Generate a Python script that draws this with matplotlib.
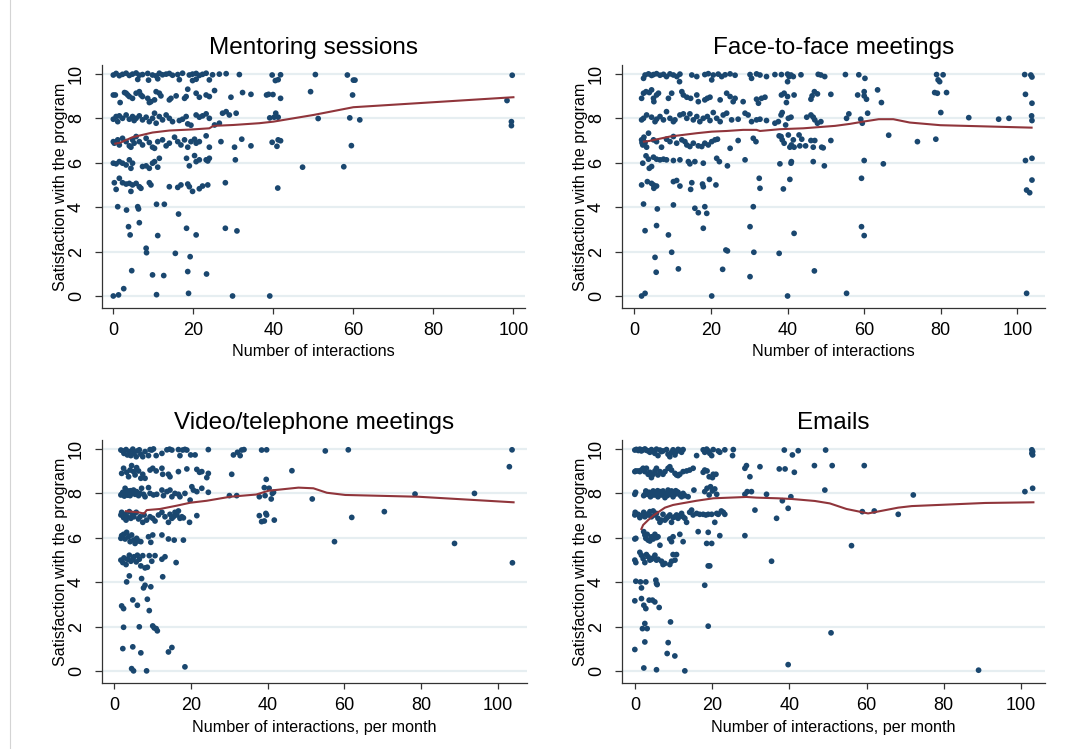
import numpy as np
import matplotlib
matplotlib.use("Agg")
import matplotlib.pyplot as plt
from matplotlib.lines import Line2D

plt.rcParams['font.family'] = ['Liberation Sans', 'DejaVu Sans']

titles = ["Mentoring sessions", "Face-to-face meetings",
          "Video/telephone meetings", "Emails"]
xlabels = ["Number of interactions", "Number of interactions",
           "Number of interactions, per month", "Number of interactions, per month"]
ylabel = "Satisfaction with the program"
xticks = [0, 20, 40, 60, 80, 100]
yticks = [0, 2, 4, 6, 8, 10]

# (interactions, satisfaction) (jitter included)
mentor_pts = [
    (0.0, 9.95), (0.7, 10.02), (1.5, 9.92), (2.3, 9.98), (3.2, 10.03), (4.0, 9.93), (4.8, 9.99), (5.7, 10.04),
    (6.5, 9.94), (7.3, 9.97), (8.6, 10.02), (9.8, 9.95), (10.7, 9.91), (11.5, 10.03), (12.3, 9.96), (13.2, 9.99),
    (14.0, 10.02), (14.8, 9.94), (16.1, 9.97), (17.3, 10.03), (19.0, 9.95), (19.8, 9.99), (20.7, 10.02),
    (21.5, 9.93), (22.3, 9.98), (23.2, 10.03), (24.8, 9.96), (26.5, 9.99), (28.2, 10.01), (31.5, 9.97),
    (6.1, 9.75), (8.8, 9.72), (11.1, 9.78), (16.5, 9.74), (19.8, 9.7), (20.7, 9.76), (24.0, 9.73),
    (39.7, 9.95), (41.8, 9.96), (50.5, 9.97), (58.5, 9.95), (99.7, 9.94), (40.5, 9.7), (41.2, 9.74),
    (60.0, 9.72), (60.4, 9.72),
    (0.0, 9.05), (0.5, 9.05), (1.7, 8.71), (2.8, 9.16), (3.2, 9.13), (3.6, 9.05), (4.0, 8.98), (4.8, 8.9),
    (5.7, 9.13), (6.5, 9.2), (6.9, 9.05), (7.3, 8.98), (8.6, 8.9), (9.0, 8.71), (9.4, 8.75), (10.3, 8.83),
    (10.7, 9.2), (11.5, 9.13), (11.9, 9.01), (14.0, 8.83), (14.4, 8.9), (15.7, 9.01), (17.8, 8.9), (18.2, 8.98),
    (18.6, 9.31), (20.7, 9.13), (21.5, 8.95), (23.2, 9.05), (24.0, 8.98), (25.3, 9.25), (29.4, 8.95),
    (32.3, 9.16), (34.4, 9.08),
    (38.3, 9.05), (38.8, 9.08), (39.9, 9.07), (41.8, 8.9), (49.3, 9.2), (59.8, 9.05), (98.4, 8.8),
    (0.0, 7.96), (0.7, 8.08), (1.1, 7.85), (1.5, 8.11), (2.3, 8.0), (3.2, 8.15), (4.0, 7.96), (4.8, 8.08),
    (5.2, 7.9), (5.7, 8.0), (6.5, 8.11), (7.3, 7.93), (8.2, 8.05), (9.0, 7.85), (9.8, 8.0), (10.3, 8.23),
    (10.7, 7.78), (11.5, 8.08), (12.3, 7.93), (13.2, 8.15), (14.0, 8.0), (14.8, 7.85), (16.5, 7.9), (17.3, 7.96),
    (18.2, 8.08), (18.6, 7.75), (19.4, 7.69), (20.7, 8.15), (21.5, 8.05), (22.3, 8.11), (23.2, 8.2), (24.0, 8.0),
    (25.3, 7.7), (26.5, 7.78), (27.3, 8.23), (28.2, 8.3), (29.0, 8.15), (30.7, 8.23),
    (39.1, 8.02), (40.2, 8.05), (40.6, 8.23), (41.2, 8.05), (51.2, 7.99), (59.1, 8.02), (61.6, 7.93),
    (99.5, 7.85), (99.5, 7.67),
    (0.0, 6.95), (0.25, 6.88), (1.1, 7.03), (1.5, 6.8), (2.3, 7.1), (3.2, 6.95), (4.0, 6.76), (4.4, 6.7),
    (4.8, 7.03), (5.2, 6.88), (5.7, 7.18), (6.5, 6.95), (7.3, 6.8), (8.2, 7.1), (9.0, 6.91), (9.8, 6.7),
    (10.3, 6.65), (11.1, 6.95), (12.3, 7.03), (13.2, 6.76), (14.0, 6.88), (15.3, 7.15), (16.1, 6.95), (16.9, 6.8),
    (17.8, 7.03), (18.6, 6.7), (19.4, 6.95), (20.3, 7.06), (20.7, 6.88), (21.5, 6.95), (23.2, 7.21), (24.0, 6.7),
    (26.9, 6.95), (30.3, 6.7), (32.1, 7.06), (34.4, 6.76),
    (39.7, 6.92), (41.2, 7.03), (41.8, 6.99), (40.9, 6.74), (59.5, 6.77),
    (0.0, 5.98), (0.7, 5.95), (1.5, 6.05), (2.3, 5.98), (3.2, 5.9), (4.0, 6.13), (4.4, 5.75), (4.8, 5.98),
    (7.3, 5.83), (8.2, 5.86), (9.0, 5.75), (9.8, 5.98), (10.3, 6.05), (11.1, 5.8), (11.5, 6.2), (18.3, 6.2),
    (19.0, 5.86), (20.3, 6.32), (20.7, 6.05), (21.5, 6.13), (23.2, 6.13), (23.6, 6.08), (24.0, 6.2), (30.5, 6.13),
    (47.3, 5.8), (57.6, 5.82),
    (0.25, 5.1), (0.7, 4.8), (1.5, 5.3), (2.3, 5.1), (3.2, 5.04), (4.0, 5.07), (4.4, 4.71), (4.8, 5.0),
    (5.7, 5.07), (6.5, 4.92), (6.9, 4.85), (9.0, 5.1), (9.4, 5.0), (14.0, 4.92), (16.1, 4.89), (16.9, 5.0),
    (18.6, 5.04), (19.0, 4.92), (19.8, 4.71), (21.5, 4.83), (22.3, 4.95), (23.6, 5.0), (28.0, 5.1), (41.1, 4.86),
    (1.1, 4.02), (3.3, 3.87), (6.1, 4.02), (6.3, 3.92), (10.8, 4.13), (12.75, 4.13), (16.3, 3.69),
    (3.8, 3.12), (4.2, 2.75), (6.5, 3.3), (11.1, 2.72), (18.3, 3.05), (20.7, 2.75), (28.0, 3.05), (30.9, 2.93),
    (8.2, 2.15), (8.3, 1.95), (15.5, 1.92), (19.2, 1.77),
    (4.6, 1.14), (9.8, 0.95), (12.6, 0.92), (18.6, 1.1), (23.3, 0.99),
    (0.0, 0.0), (1.3, 0.05), (2.6, 0.33), (10.8, 0.06), (18.8, 0.12), (29.8, 0.0), (39.1, 0.0),
]

face_pts = [
    (2.4, 9.8), (2.8, 9.95), (3.7, 10.0), (4.5, 9.93), (5.0, 9.97), (5.8, 10.01), (6.7, 9.94), (7.6, 9.98),
    (8.4, 9.88), (9.3, 10.0), (10.2, 9.95), (11.1, 9.88), (11.8, 9.65), (11.9, 9.99), (15.0, 9.95), (16.3, 9.88),
    (18.4, 9.97), (19.3, 10.01), (20.2, 9.73), (20.6, 9.95), (21.9, 9.99), (22.8, 9.88), (23.7, 9.96),
    (25.0, 10.0), (26.3, 9.94), (30.2, 9.97), (30.6, 9.8), (31.9, 10.0), (32.8, 9.95), (34.5, 9.88), (36.7, 9.97),
    (38.4, 9.97), (40.0, 9.99), (40.4, 9.88), (40.9, 9.95), (41.5, 9.88), (43.5, 9.96), (48.0, 9.98),
    (48.7, 9.95), (49.7, 9.88), (55.1, 9.97), (58.6, 9.96), (60.2, 9.8), (78.9, 9.97), (80.6, 9.96),
    (79.7, 9.65), (79.3, 9.73), (101.9, 9.97), (103.5, 9.95), (103.8, 9.86), (40.0, 9.65),
    (1.9, 8.9), (2.4, 9.13), (3.05, 9.2), (3.9, 9.16), (4.5, 9.28), (5.0, 8.9), (5.1, 8.75), (5.8, 9.05),
    (6.3, 9.13), (8.9, 8.9), (9.75, 9.13), (12.4, 9.2), (12.8, 9.05), (13.7, 8.95), (14.7, 8.9), (16.3, 9.05),
    (16.7, 8.75), (18.4, 8.83), (19.05, 8.9), (19.75, 8.95), (22.4, 8.83), (24.1, 9.13), (25.0, 8.98),
    (26.3, 8.9), (25.8, 8.75), (28.4, 8.75), (31.9, 8.86), (32.4, 8.68), (33.2, 8.9), (34.1, 8.95),
    (38.4, 9.05), (39.1, 9.13), (40.0, 8.98), (39.7, 8.71), (41.7, 9.05), (46.1, 8.86), (46.4, 9.01),
    (47.0, 9.2), (47.8, 9.1), (51.3, 9.08), (58.3, 9.05), (60.0, 9.2), (60.0, 9.01), (60.6, 8.86),
    (63.5, 9.28), (64.5, 8.71), (78.4, 9.16), (79.1, 9.13), (81.5, 9.16), (102.1, 9.08), (103.8, 8.68),
    (1.9, 7.93), (2.4, 8.0), (3.2, 8.15), (4.5, 8.05), (5.4, 7.85), (5.8, 7.96), (6.7, 8.08), (7.6, 7.93),
    (8.4, 8.3), (9.3, 8.0), (10.2, 7.85), (10.6, 7.93), (11.9, 8.15), (12.8, 8.2), (13.7, 8.0), (14.5, 8.2),
    (15.4, 7.93), (16.3, 8.08), (17.1, 7.85), (18.0, 8.0), (19.05, 8.08), (19.75, 7.9), (20.6, 8.26),
    (21.5, 8.0), (22.4, 7.85), (23.2, 8.15), (24.1, 8.23), (25.4, 7.93), (27.1, 7.96), (28.9, 8.23),
    (29.7, 8.15), (30.6, 7.85), (31.9, 7.93), (32.8, 7.96), (34.5, 7.9), (36.7, 7.78),
    (37.6, 7.85), (38.3, 8.15), (38.6, 8.26), (39.5, 7.7), (40.2, 8.0), (40.9, 8.05), (45.0, 8.05),
    (46.1, 8.15), (46.7, 8.05), (47.1, 7.93), (47.8, 7.78), (48.7, 7.85), (55.4, 8.0), (56.0, 8.2),
    (59.1, 7.96), (59.5, 7.78), (60.9, 8.23), (80.0, 8.26), (87.3, 8.03), (95.1, 7.96), (97.8, 8.0),
    (103.7, 8.11), (103.8, 7.9),
    (1.9, 7.03), (2.2, 6.8), (2.5, 7.15), (2.8, 6.91), (3.2, 6.7), (3.7, 7.33), (5.0, 7.03), (5.8, 6.95),
    (7.1, 6.7), (8.4, 7.06), (9.3, 6.95), (10.2, 7.18), (11.05, 6.88), (12.4, 7.03), (13.2, 6.95), (13.7, 6.8),
    (14.5, 6.73), (15.4, 6.88), (16.7, 6.76), (17.6, 6.73), (18.4, 6.88), (19.3, 6.8), (20.2, 6.95),
    (21.05, 7.03), (21.7, 7.06), (25.0, 6.65), (27.1, 7.0), (31.05, 7.1), (31.75, 6.95), (37.8, 7.21),
    (2.0, 6.9), (2.3, 7.05), (2.6, 6.85),
    (38.3, 7.18), (38.6, 7.03), (39.1, 6.88), (40.2, 7.25), (40.6, 6.7), (41.0, 6.8), (41.5, 7.03),
    (41.7, 6.7), (43.0, 7.25), (43.7, 7.06), (43.2, 6.76), (44.7, 6.76), (46.1, 7.0), (46.7, 6.7),
    (47.1, 7.0), (48.9, 6.7), (49.3, 6.67), (51.3, 7.0), (66.4, 7.24), (73.9, 6.95), (78.7, 7.06),
    (2.2, 5.98), (3.05, 6.31), (3.7, 6.16), (3.9, 5.75), (4.5, 5.83), (5.0, 6.25), (5.8, 6.16), (6.7, 6.13),
    (7.6, 6.16), (8.4, 6.13), (10.2, 6.1), (11.9, 6.13), (14.1, 6.05), (14.5, 5.95), (15.8, 6.05), (18.0, 5.98),
    (21.5, 6.2), (22.2, 6.05), (24.3, 5.86), (28.9, 6.13), (38.0, 5.95),
    (40.9, 5.98), (41.0, 6.05), (46.7, 6.05), (49.6, 5.86), (60.0, 6.1), (65.0, 5.95), (102.1, 6.1),
    (103.8, 6.2), (59.3, 5.3), (40.6, 5.25), (103.8, 5.22), (38.9, 4.82), (102.4, 4.77), (103.2, 4.65),
    (1.9, 5.0), (3.4, 5.15), (4.5, 5.07), (5.0, 5.0), (5.1, 4.85), (5.8, 4.95), (10.2, 5.15), (11.05, 5.2),
    (11.9, 4.95), (14.7, 4.8), (15.0, 5.1), (17.8, 5.04), (18.0, 4.92), (19.6, 5.25), (21.3, 5.0),
    (32.6, 5.3), (32.8, 4.85),
    (2.4, 4.14), (6.0, 3.92), (10.2, 4.1), (15.8, 3.95), (16.7, 3.75), (18.4, 4.02), (18.9, 3.72), (31.05, 4.02),
    (2.8, 2.94), (5.8, 3.17), (8.9, 2.75), (18.0, 3.05), (30.2, 3.12), (41.7, 2.82), (59.3, 3.12), (60.0, 2.72),
    (5.4, 1.74), (9.75, 1.97), (23.9, 2.07), (24.3, 2.03), (31.2, 1.97), (37.8, 1.92),
    (5.7, 1.07), (11.5, 1.22), (23.05, 1.2), (30.2, 0.87), (47.0, 1.13),
    (1.9, 0.0), (2.8, 0.12), (20.2, 0.0), (40.0, 0.0), (55.4, 0.12), (102.4, 0.12),
]

video_pts = [
    (1.7, 9.95), (2.2, 9.91), (2.5, 9.8), (3.05, 9.97), (3.4, 9.73), (3.9, 9.88), (4.3, 9.7), (4.8, 9.99),
    (5.1, 9.8), (5.7, 9.65), (6.0, 9.91), (6.5, 9.96), (6.9, 9.76), (7.4, 9.65), (8.0, 9.88), (8.9, 9.7),
    (9.3, 9.97), (9.75, 9.95), (10.2, 10.0), (10.9, 9.7), (12.4, 9.8), (13.7, 9.96), (14.4, 9.99), (15.0, 9.95),
    (16.7, 9.97), (17.1, 9.7), (17.8, 9.95), (18.4, 9.98), (18.9, 9.95), (19.9, 9.73), (21.05, 9.73),
    (24.5, 9.97), (31.05, 9.73), (32.1, 9.85), (32.8, 9.7), (33.2, 9.95), (33.8, 9.97),
    (38.4, 9.95), (39.7, 9.96), (55.0, 9.91), (61.0, 9.96), (103.7, 9.96), (103.0, 9.2),
    (1.9, 8.9), (2.4, 9.13), (3.2, 8.95), (3.7, 8.75), (4.1, 9.05), (4.5, 9.25), (5.0, 8.98), (5.4, 8.83),
    (5.8, 9.16), (6.3, 9.01), (6.9, 8.68), (7.4, 8.86), (8.0, 8.68), (9.3, 9.05), (10.0, 9.13), (10.9, 9.01),
    (12.4, 9.13), (12.6, 8.86), (14.1, 8.86), (14.5, 8.75), (16.7, 8.98), (18.9, 9.1), (21.5, 9.08),
    (22.2, 8.95), (22.8, 8.98), (24.1, 8.71), (24.5, 8.9), (30.6, 8.86), (46.3, 9.02), (39.6, 8.63),
    (1.7, 7.93), (2.2, 8.05), (2.8, 8.23), (3.2, 7.96), (3.7, 8.11), (4.1, 7.9), (4.5, 8.0), (5.0, 8.15),
    (5.4, 7.96), (5.8, 8.08), (6.3, 7.9), (6.7, 8.0), (7.1, 8.23), (7.6, 7.96), (8.0, 7.85), (8.9, 8.26),
    (9.3, 8.0), (10.2, 7.93), (11.05, 7.96), (12.4, 8.15), (12.8, 7.9), (13.7, 8.08), (14.5, 8.15),
    (15.0, 7.85), (15.8, 8.0), (16.7, 7.96), (17.1, 7.85), (18.4, 8.0), (19.75, 7.7), (20.2, 8.3),
    (20.6, 8.15), (21.5, 8.08), (22.8, 8.23), (24.5, 8.05), (30.0, 7.9), (31.9, 7.9), (37.8, 7.85),
    (2.0, 7.98), (2.6, 7.88), (3.0, 8.1), (3.5, 7.92), (4.3, 8.12),
    (39.1, 8.26), (39.3, 7.9), (40.35, 8.23), (40.9, 7.75), (41.2, 8.0), (41.5, 8.05), (51.6, 7.75),
    (78.4, 7.97), (93.9, 8.0),
    (1.7, 7.03), (1.9, 7.15), (2.4, 6.91), (2.8, 7.06), (3.05, 6.8), (3.4, 6.95), (3.9, 7.18), (4.3, 6.88),
    (4.8, 7.03), (5.1, 6.95), (5.7, 7.15), (6.3, 6.85), (6.7, 6.95), (7.4, 6.7), (7.75, 7.03), (8.4, 6.8),
    (9.3, 6.95), (10.0, 6.88), (10.6, 6.76), (11.5, 7.03), (12.4, 7.15), (13.2, 6.95), (14.1, 6.7),
    (14.5, 7.06), (15.0, 6.88), (15.4, 6.95), (15.8, 7.15), (16.3, 7.03), (16.7, 7.21), (17.1, 6.88),
    (17.6, 6.95), (18.0, 6.9), (19.6, 6.7), (21.5, 7.0), (37.8, 7.0),
    (38.4, 6.73), (39.1, 6.76), (39.5, 7.1), (39.7, 7.03), (41.7, 6.8), (61.9, 6.92), (70.4, 7.18),
    (1.7, 5.98), (1.9, 6.1), (2.4, 6.16), (2.8, 5.95), (3.2, 6.25), (3.7, 6.05), (4.1, 5.83), (4.5, 6.13),
    (5.0, 5.9), (5.4, 5.75), (5.8, 5.98), (6.3, 5.86), (6.9, 5.83), (8.9, 6.05), (9.5, 5.8), (10.0, 6.13),
    (12.4, 6.13), (14.1, 5.95), (15.6, 5.9), (18.0, 5.9), (57.4, 5.83), (88.7, 5.75),
    (1.7, 5.0), (2.2, 4.89), (2.5, 5.1), (3.05, 4.8), (3.4, 5.04), (3.9, 5.22), (4.3, 4.95), (4.8, 5.04),
    (5.1, 5.15), (5.7, 4.92), (6.0, 5.22), (6.5, 5.04), (6.9, 4.74), (7.4, 5.2), (8.0, 4.65), (8.6, 4.68),
    (9.1, 5.2), (9.75, 4.95), (10.6, 5.2), (12.4, 5.04), (13.2, 5.15), (16.1, 4.89), (103.8, 4.88),
    (3.2, 4.02), (3.9, 4.29), (7.1, 4.17), (7.6, 3.75), (8.0, 3.87), (9.5, 3.8), (12.6, 4.25),
    (1.9, 2.94), (2.4, 2.82), (4.8, 3.21), (6.0, 2.97), (8.6, 3.24), (9.1, 2.73),
    (2.4, 1.98), (6.5, 2.0), (10.0, 2.04), (10.4, 1.95), (10.9, 1.92), (11.2, 1.82),
    (2.2, 1.02), (4.8, 1.1), (6.9, 0.83), (14.1, 0.87), (15.0, 1.07),
    (4.5, 0.12), (5.0, 0.02), (8.4, 0.02), (18.4, 0.2),
]

email_pts = [
    (0.0, 9.95), (0.4, 9.98), (0.9, 9.93), (1.3, 9.99), (1.7, 9.91), (2.15, 9.96), (2.6, 10.0), (3.0, 9.94),
    (3.45, 9.91), (3.9, 9.85), (4.3, 9.97), (4.75, 9.88), (5.2, 9.8), (5.6, 9.99), (6.0, 9.7), (6.5, 9.95),
    (6.9, 9.88), (7.3, 9.91), (8.2, 9.97), (8.6, 9.76), (9.06, 9.65), (9.5, 9.85), (9.9, 9.96), (10.4, 9.73),
    (10.8, 9.88), (11.2, 9.98), (11.65, 9.94), (12.1, 9.85), (12.5, 9.97), (16.0, 9.7), (17.7, 9.96),
    (18.1, 9.85), (18.6, 9.99), (19.0, 9.91), (19.4, 9.8), (19.9, 9.7), (20.3, 9.97), (21.6, 9.91),
    (22.0, 9.85), (23.3, 9.96), (25.5, 9.97), (25.3, 9.7),
    (38.7, 9.95), (40.8, 9.73), (42.3, 9.92), (49.4, 9.95), (102.8, 9.96), (103.0, 9.88), (102.8, 9.8),
    (103.0, 9.73),
    (0.0, 8.98), (0.26, 9.01), (0.86, 9.01), (1.3, 8.98), (1.7, 9.05), (2.15, 9.13), (2.6, 8.98), (3.0, 9.13),
    (3.45, 8.86), (3.9, 8.95), (4.3, 8.71), (4.75, 8.86), (5.2, 9.01), (5.6, 9.13), (6.0, 8.83), (6.5, 8.98),
    (7.3, 8.86), (7.8, 8.98), (8.6, 9.13), (9.06, 9.2), (9.5, 9.05), (10.4, 8.9), (10.8, 8.83), (11.2, 8.8),
    (11.65, 8.86), (12.5, 8.98), (13.4, 9.01), (14.2, 9.05), (15.1, 9.13), (17.7, 8.95), (18.1, 9.05),
    (18.7, 9.01), (19.25, 8.75), (20.1, 8.71), (20.3, 8.86), (21.0, 8.86), (28.5, 9.13), (28.9, 9.25),
    (29.8, 8.75), (32.4, 9.2), (37.4, 9.1),
    (38.9, 9.1), (41.3, 8.95), (46.5, 9.25), (51.1, 9.25), (59.4, 9.25),
    (0.0, 7.96), (0.2, 8.05), (2.3, 7.9), (2.85, 8.11), (3.2, 7.96), (3.7, 8.05), (4.05, 7.85), (4.3, 8.0),
    (4.75, 8.11), (5.2, 7.93), (5.6, 8.05), (6.0, 7.85), (6.5, 8.08), (6.9, 7.93), (7.3, 8.11), (7.8, 7.81),
    (8.2, 8.0), (8.6, 8.15), (9.06, 7.96), (9.5, 8.11), (9.9, 7.85), (10.4, 7.96), (10.8, 8.08), (11.2, 8.05),
    (11.65, 7.93), (12.1, 7.85), (12.5, 8.0), (12.95, 7.9), (13.8, 7.85), (15.3, 8.15), (18.1, 8.08),
    (18.7, 8.23), (19.25, 7.93), (19.6, 8.3), (20.1, 8.11), (20.7, 8.2), (21.2, 7.96), (28.5, 7.96),
    (29.1, 8.08), (30.2, 8.08), (34.1, 7.96),
    (2.6, 7.95), (3.45, 8.02), (4.5, 7.92), (5.9, 8.12), (7.0, 8.02), (8.4, 7.9), (9.7, 8.0), (10.6, 8.12),
    (38.2, 7.67), (40.4, 7.85), (49.2, 8.15), (72.1, 7.93), (101.0, 8.08), (103.0, 8.23),
    (0.0, 7.03), (0.1, 7.15), (0.86, 7.06), (1.3, 6.91), (1.7, 7.0), (2.3, 7.15), (2.6, 6.95), (3.0, 7.06),
    (3.45, 7.03), (3.9, 7.18), (4.3, 6.95), (4.75, 7.21), (5.2, 7.03), (5.6, 7.1), (6.0, 6.88), (6.5, 6.7),
    (6.9, 6.8), (7.3, 7.06), (7.8, 6.8), (8.2, 6.88), (8.6, 6.95), (9.06, 7.03), (9.5, 6.7), (9.9, 6.91),
    (10.4, 6.95), (10.8, 7.03), (11.2, 6.88), (11.65, 7.0), (12.1, 7.1), (12.5, 6.95), (12.95, 6.88),
    (13.4, 6.7), (14.2, 7.15), (14.7, 7.25), (15.1, 7.03), (16.0, 7.1), (16.8, 7.06), (17.7, 7.06),
    (18.4, 7.03), (19.0, 7.06), (19.9, 7.06), (20.7, 6.7), (21.2, 7.1), (21.6, 7.06), (22.4, 7.21),
    (22.9, 7.15), (23.3, 7.06), (31.1, 7.25), (36.7, 6.88),
    (39.7, 7.33), (58.9, 7.18), (62.0, 7.21), (68.2, 7.06),
    (0.0, 5.95), (0.26, 5.98), (2.3, 6.28), (2.6, 6.13), (2.85, 5.98), (3.2, 6.16), (3.45, 5.9), (3.9, 5.86),
    (4.3, 6.05), (4.75, 5.95), (5.2, 6.16), (5.6, 6.01), (6.0, 6.05), (6.5, 5.67), (9.06, 5.95), (9.5, 5.83),
    (9.9, 6.05), (11.65, 6.16), (12.5, 5.83), (16.4, 6.28), (18.6, 5.75), (19.0, 6.25), (19.9, 5.75),
    (22.0, 6.1), (28.5, 6.1), (56.1, 5.65),
    (0.0, 5.0), (0.26, 4.89), (1.3, 5.35), (1.7, 5.22), (2.15, 5.07), (2.6, 4.89), (3.0, 5.25), (3.45, 5.15),
    (3.9, 5.0), (4.3, 5.04), (4.75, 5.1), (5.2, 5.22), (5.6, 5.0), (6.0, 5.04), (6.9, 4.95), (7.3, 4.8),
    (7.8, 4.85), (9.06, 4.8), (9.5, 4.95), (9.9, 5.25), (10.4, 5.0), (10.8, 5.25), (19.0, 4.74), (19.4, 4.74),
    (35.4, 4.95),
    (0.26, 4.05), (1.46, 4.02), (1.72, 3.75), (2.85, 4.02), (5.44, 4.1), (5.61, 3.95), (5.78, 3.9), (18.1, 3.87),
    (0.0, 3.17), (1.72, 3.27), (2.33, 2.97), (2.85, 2.82), (3.71, 3.2), (4.57, 3.2), (5.18, 3.12), (6.3, 2.87),
    (1.98, 1.92), (2.59, 2.15), (3.19, 1.92), (9.24, 2.22), (19.0, 2.03), (50.8, 1.73),
    (0.0, 0.98), (2.59, 1.32), (8.63, 1.29), (8.37, 0.8), (10.36, 0.69),
    (2.33, 0.15), (5.61, 0.07), (12.95, 0.02), (39.7, 0.3), (89.0, 0.05),
]

# lowess curves
mentor_fit_x = [0.5, 1.7, 4.8, 9.8, 14.0, 19.8, 24.0, 25.0, 30.0, 36.5, 40.0, 50.0, 60.0, 100.0]
mentor_fit_y = [6.86, 6.9, 7.15, 7.36, 7.45, 7.5, 7.55, 7.66, 7.7, 7.78, 7.85, 8.15, 8.5, 8.95]
face_fit_x = [2.5, 3.9, 9.3, 16.3, 20.2, 24.1, 28.4, 31.9, 32.8, 38.0, 44.1, 52.4, 56.3, 59.7, 63.8, 67.6,
              71.9, 79.9, 103.7]
face_fit_y = [6.95, 6.98, 7.18, 7.33, 7.4, 7.43, 7.48, 7.48, 7.43, 7.51, 7.55, 7.66, 7.75, 7.85, 7.96, 7.96,
              7.81, 7.69, 7.58]
video_fit_x = [3.0, 6.3, 7.75, 8.44, 11.9, 16.3, 19.75, 24.1, 30.2, 37.0, 40.2, 48.0, 51.9, 55.4, 60.2,
               79.3, 104.1]
video_fit_y = [7.2, 7.15, 7.09, 7.25, 7.3, 7.45, 7.58, 7.67, 7.85, 7.95, 8.12, 8.26, 8.23, 8.03, 7.93,
               7.85, 7.6]
email_fit_x = [1.7, 2.15, 3.45, 4.75, 6.0, 7.8, 9.9, 12.1, 16.0, 20.3, 24.6, 28.9, 31.5, 37.0, 40.6, 46.6,
               50.5, 54.8, 60.4, 68.2, 71.7, 90.7, 103.2]
email_fit_y = [6.4, 6.58, 6.8, 7.0, 7.15, 7.36, 7.48, 7.55, 7.67, 7.78, 7.81, 7.84, 7.81, 7.78, 7.75, 7.66,
               7.55, 7.3, 7.1, 7.36, 7.43, 7.57, 7.6]

panels = [
    (mentor_pts, mentor_fit_x, mentor_fit_y, (-2.9, 102.9)),
    (face_pts, face_fit_x, face_fit_y, (-3.3, 107.2)),
    (video_pts, video_fit_x, video_fit_y, (-3.3, 107.7)),
    (email_pts, email_fit_x, email_fit_y, (-3.4, 106.2)),
]
positions = [
    [0.0948, 0.5888, 0.3945, 0.3244],
    [0.5794, 0.5888, 0.3945, 0.3244],
    [0.0948, 0.0877, 0.3967, 0.3248],
    [0.5794, 0.0877, 0.3945, 0.3248],
]

navy = '#1a476f'
maroon = '#90353b'
grid_col = '#e6eef1'

fig = plt.figure(figsize=(10.73, 7.49), dpi=100)
fig.patch.set_facecolor('white')

for i, (pts, fx, fy, xl) in enumerate(panels):
    ax = fig.add_axes(positions[i])
    arr = np.array(pts)
    for yv in yticks:
        ax.axhline(yv, color=grid_col, lw=1.6, zorder=0)
    ax.scatter(arr[:, 0], arr[:, 1], s=17, color=navy, edgecolors='none', zorder=2)
    ax.plot(fx, fy, color=maroon, lw=1.5, zorder=3)
    ax.set_xlim(*xl)
    ax.set_ylim(-0.54, 10.4)
    ax.set_xticks(xticks)
    ax.set_yticks(yticks)
    ax.set_yticklabels([str(v) for v in yticks], rotation=90, va='center')
    ax.tick_params(axis='both', labelsize=13, color='#333333', width=0.9)
    ax.tick_params(axis='x', length=4, pad=6)
    ax.tick_params(axis='y', length=5, pad=7)
    for s in ['top', 'right']:
        ax.spines[s].set_visible(False)
    for s in ['left', 'bottom']:
        ax.spines[s].set_linewidth(0.9)
        ax.spines[s].set_color('#333333')
    ax.set_title(titles[i], fontsize=17.5, pad=8)
    ax.set_xlabel(xlabels[i], fontsize=11.6, labelpad=4)
    ax.set_ylabel(ylabel, fontsize=11.6, labelpad=0)

# thin frame line at the left edge of the screenshot
fig.add_artist(Line2D([10 / 1073, 10 / 1073], [0, 1], color='#d4d4d4', lw=0.8))

fig.savefig('out.png', dpi=100, facecolor='white')
